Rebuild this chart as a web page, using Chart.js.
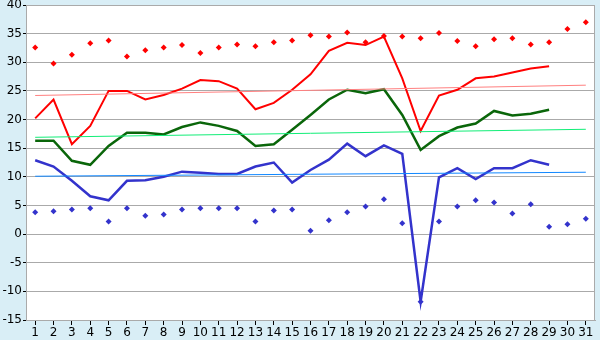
<!DOCTYPE html>
<html>
<head>
<meta charset="utf-8">
<script src="https://cdn.jsdelivr.net/npm/chart.js@4/dist/chart.umd.min.js"></script>
<style>
  html, body { margin: 0; padding: 0; background: #d9eef6; }
  #wrap { width: 600px; height: 340px; }
</style>
</head>
<body>
<div id="wrap"><canvas id="grafico"></canvas></div>
<script>
// dias do mes
const dias = ["1","2","3","4","5","6","7","8","9","10","11","12","13","14","15","16",
  "17","18","19","20","21","22","23","24","25","26","27","28","29","30","31"];

// recordes (losangos)
const recordeMax = [32.6, 29.8, 31.3, 33.3, 33.8, 31.0, 32.1, 32.6, 33.0, 31.6, 32.6, 33.1, 32.8, 33.5, 33.8, 34.7,
  34.5, 35.2, 33.5, 34.6, 34.5, 34.2, 35.1, 33.7, 32.8, 34.0, 34.2, 33.1, 33.5, 35.8, 37.0];
const recordeMin = [3.8, 4.0, 4.3, 4.5, 2.2, 4.5, 3.2, 3.4, 4.3, 4.5, 4.5, 4.5, 2.2, 4.1, 4.3, 0.6,
  2.4, 3.8, 4.8, 6.1, 1.9, -11.8, 2.2, 4.8, 5.9, 5.5, 3.6, 5.2, 1.3, 1.7, 2.7];

// temperaturas do mes (ate o dia 29)
const tempMax = [20.2, 23.5, 15.7, 18.9, 25.0, 25.0, 23.5, 24.3, 25.4, 26.9, 26.7, 25.4, 21.8, 22.9, 25.2, 27.9,
  32.0, 33.4, 33.0, 34.5, 27.2, 18.0, 24.2, 25.2, 27.2, 27.5, 28.2, 28.9, 29.3];
const tempMed = [16.3, 16.3, 12.8, 12.1, 15.4, 17.7, 17.7, 17.4, 18.7, 19.5, 18.9, 18.0, 15.4, 15.7, 18.2, 20.8,
  23.5, 25.2, 24.6, 25.3, 20.8, 14.7, 17.1, 18.6, 19.3, 21.5, 20.7, 21.0, 21.7];
const tempMin = [12.9, 11.8, 9.3, 6.6, 5.9, 9.3, 9.4, 10.0, 10.9, 10.7, 10.5, 10.5, 11.8, 12.5, 9.0, 11.2,
  13.0, 15.8, 13.6, 15.5, 14.0, -11.8, 9.9, 11.5, 9.6, 11.5, 11.5, 12.9, 12.1];

// medias climatologicas (inicio e fim do mes)
const normalMax = [24.2, 26.0];
const normalMed = [16.9, 18.3];
const normalMin = [10.1, 10.8];

function extremos(par) {
  let arr = dias.map(() => null);
  arr[0] = par[0];
  arr[dias.length - 1] = par[1];
  return arr;
}

// fundo branco da area do grafico + moldura
const fundoPlugin = {
  id: "fundo",
  beforeDraw(chart) {
    const a = chart.chartArea;
    const ctx = chart.ctx;
    ctx.save();
    ctx.fillStyle = "#ffffff";
    ctx.fillRect(a.left, a.top, a.right - a.left, a.bottom - a.top);
    ctx.restore();
  },
  afterDraw(chart) {
    const a = chart.chartArea;
    const ctx = chart.ctx;
    ctx.save();
    ctx.strokeStyle = "#aaaaaa";
    ctx.lineWidth = 1;
    ctx.strokeRect(Math.round(a.left) + 0.5, Math.round(a.top) + 0.5,
      Math.round(a.right - a.left) - 1, Math.round(a.bottom - a.top));
    ctx.restore();
  }
};

function linha(dados, cor, largura) {
  return {
    type: "line",
    data: dados,
    borderColor: cor,
    backgroundColor: cor,
    borderWidth: largura,
    pointRadius: 0,
    tension: 0,
    spanGaps: true,
    fill: false,
  };
}

function pontos(dados, cor) {
  return {
    type: "line",
    data: dados,
    showLine: false,
    borderColor: cor,
    backgroundColor: cor,
    pointStyle: "rectRot",
    pointRadius: 3,
    pointBorderWidth: 0,
  };
}

Chart.defaults.font.family = "'DejaVu Sans', Verdana, sans-serif";
Chart.defaults.font.size = 12;
Chart.defaults.color = "#000";

new Chart(document.getElementById("grafico"), {
  type: "line",
  data: {
    labels: dias,
    datasets: [
      linha(extremos(normalMax), "#ff8080", 1),
      linha(extremos(normalMed), "#11ee77", 1),
      linha(extremos(normalMin), "#1188ff", 1),
      linha(tempMax, "#ff0000", 2),
      linha(tempMed, "#0a660a", 2.5),
      linha(tempMin, "#3333cc", 2.5),
      pontos(recordeMax, "#ff0000"),
      pontos(recordeMin, "#3333cc"),
    ],
  },
  options: {
    responsive: true,
    maintainAspectRatio: false,
    animation: false,
    layout: { padding: { top: 5, right: 5, left: 0, bottom: 0 } },
    plugins: {
      legend: { display: false },
      tooltip: { enabled: false },
    },
    scales: {
      x: {
        offset: true,
        grid: {
          offset: false,
          drawOnChartArea: false,
          tickLength: 5,
          tickColor: "#000",
        },
        border: { color: "#aaaaaa" },
        ticks: { autoSkip: false, maxRotation: 0, padding: 1 },
        afterFit(scale) {
          scale.height = 20;
          scale.paddingLeft = 0;
          scale.paddingRight = 0;
        },
      },
      y: {
        min: -15,
        max: 40,
        grid: {
          color: "#aaaaaa",
          tickLength: 3,
          tickColor: "#000",
        },
        border: { color: "#aaaaaa" },
        ticks: { stepSize: 5, padding: 1 },
        afterFit(scale) {
          scale.width = 26;
          scale.paddingTop = 0;
          scale.paddingBottom = 0;
        },
      },
    },
  },
  plugins: [fundoPlugin],
});
</script>
</body>
</html>
